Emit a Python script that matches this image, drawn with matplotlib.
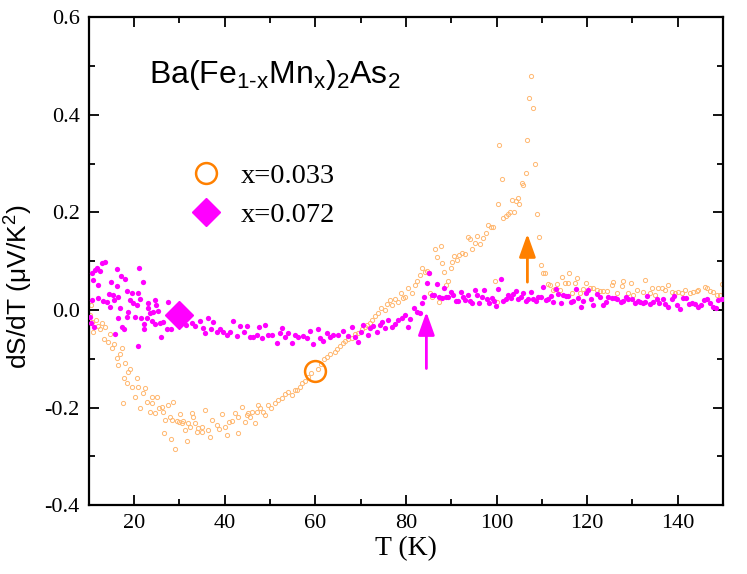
import matplotlib

matplotlib.use("Agg")
import matplotlib.pyplot as plt

# x = 0.033 sample (open orange circles)
orange_T = [
    10.2, 10.5, 10.7, 11.0, 11.5, 12.0, 12.4, 12.9, 13.3, 13.6, 14.2, 14.6, 15.1, 15.5, 16.2, 16.4,
    16.8, 17.3, 17.5, 17.7, 17.9, 18.4, 18.6, 19.0, 19.5, 20.2, 20.6, 20.8, 21.3, 21.9, 22.4, 22.8,
    23.5, 23.9, 24.0, 24.6, 25.0, 25.5, 26.1, 26.4, 26.6, 26.8, 27.4, 27.8, 28.1, 28.3, 28.5, 29.0,
    29.4, 29.8, 30.1, 30.5, 30.8, 31.2, 31.6, 31.9, 32.3, 32.7, 33.0, 33.4, 33.8, 34.1, 34.9, 35.0,
    35.6, 36.3, 36.8, 37.2, 38.3, 38.8, 39.4, 40.0, 40.5, 41.0, 41.6, 42.2, 42.9, 43.0, 43.8, 44.4,
    44.8, 45.1, 45.5, 46.0, 46.6, 47.0, 47.3, 47.8, 48.4, 48.8, 49.5, 50.2, 51.0, 51.8, 52.6, 53.3,
    54.0, 54.8, 55.5, 56.0, 56.6, 57.0, 57.6, 58.3, 59.0, 60.6, 61.3, 62.0, 62.5, 63.2, 64.3, 64.8,
    65.4, 66.0, 66.6, 67.3, 68.0, 68.7, 69.4, 70.2, 71.0, 71.5, 72.0, 72.6, 73.2, 73.8, 74.5, 75.3,
    75.8, 76.4, 77.0, 77.6, 78.2, 78.8, 79.3, 79.8, 80.5, 81.3, 82.0, 82.5, 83.0, 83.6, 84.2, 84.6,
    85.0, 85.4, 85.8, 86.4, 86.8, 87.2, 87.7, 88.0, 88.4, 88.9, 89.2, 89.9, 90.2, 90.6, 91.2, 91.7,
    92.3, 93.0, 93.7, 94.1, 94.6, 95.2, 95.6, 96.3, 97.0, 97.6, 98.1, 98.7, 99.1, 99.6, 100.0, 100.3,
    100.5, 101.2, 101.4, 102.1, 102.5, 102.9, 103.4, 103.8, 104.3, 104.7, 104.9, 105.6, 105.8, 106.5, 106.7, 107.2,
    107.6, 108.1, 108.5, 109.0, 109.4, 109.8, 110.2, 110.7, 111.3, 111.8, 112.4, 112.9, 113.3, 114.0, 114.4, 115.1,
    115.7, 116.0, 116.6, 117.3, 117.7, 118.4, 119.1, 119.7, 120.6, 121.3, 122.1, 122.8, 123.5, 124.3, 125.5, 125.7,
    126.6, 127.7, 127.9, 129.0, 129.6, 130.1, 131.0, 132.3, 132.7, 133.8, 134.3, 134.9, 135.6, 136.5, 137.2, 137.8,
    138.7, 139.4, 140.0, 140.9, 141.6, 142.7, 143.3, 144.2, 144.4, 146.0, 146.4, 147.1, 147.7, 148.6, 149.3, 149.7,
]
orange_dSdT = [
    -0.010, 0.010, -0.025, -0.045, -0.020, -0.033, -0.040, -0.027, -0.060, -0.035, -0.065, -0.050, -0.078, -0.070, -0.098, -0.113,
    -0.090, -0.078, -0.190, -0.140, -0.109, -0.150, -0.127, -0.120, -0.157, -0.178, -0.140, -0.157, -0.200, -0.170, -0.160, -0.188,
    -0.209, -0.178, -0.190, -0.211, -0.178, -0.200, -0.198, -0.210, -0.252, -0.225, -0.195, -0.220, -0.264, -0.225, -0.188, -0.285,
    -0.227, -0.230, -0.213, -0.232, -0.228, -0.246, -0.268, -0.232, -0.240, -0.211, -0.220, -0.232, -0.250, -0.242, -0.250, -0.240,
    -0.205, -0.246, -0.260, -0.225, -0.235, -0.245, -0.213, -0.240, -0.256, -0.230, -0.227, -0.211, -0.252, -0.220, -0.198, -0.229,
    -0.215, -0.211, -0.220, -0.209, -0.232, -0.210, -0.195, -0.200, -0.209, -0.215, -0.195, -0.200, -0.190, -0.185, -0.180, -0.172,
    -0.168, -0.175, -0.165, -0.164, -0.158, -0.150, -0.145, -0.137, -0.130, -0.120, -0.110, -0.100, -0.096, -0.090, -0.086, -0.080,
    -0.073, -0.068, -0.063, -0.060, -0.057, -0.050, -0.047, -0.040, -0.035, -0.030, -0.027, -0.020, -0.012, -0.006, 0.005, 0.000,
    0.012, 0.020, 0.010, 0.022, 0.016, 0.035, 0.025, 0.027, 0.045, 0.035, 0.051, 0.060, 0.072, 0.085, 0.078, 0.080,
    0.076, 0.035, 0.027, 0.125, 0.109, 0.016, 0.131, 0.096, 0.078, 0.051, 0.059, 0.086, 0.098, 0.111, 0.102, 0.113,
    0.117, 0.115, 0.150, 0.145, 0.125, 0.137, 0.152, 0.135, 0.148, 0.158, 0.174, 0.170, 0.170, 0.060, 0.016, 0.217,
    0.338, 0.268, 0.188, 0.193, 0.197, 0.200, 0.225, 0.200, 0.223, 0.230, 0.217, 0.260, 0.256, 0.281, 0.348, 0.434,
    0.480, 0.414, 0.299, 0.197, 0.150, 0.092, 0.076, 0.076, 0.053, 0.051, 0.041, 0.043, 0.053, 0.041, 0.068, 0.055,
    0.055, 0.076, 0.035, 0.055, 0.066, 0.035, 0.043, 0.055, 0.045, 0.045, 0.041, 0.039, 0.039, 0.039, 0.051, 0.057,
    0.035, 0.049, 0.059, 0.035, 0.055, 0.031, 0.041, 0.037, 0.061, 0.035, 0.045, 0.031, 0.045, 0.045, 0.041, 0.051,
    0.037, 0.035, 0.037, 0.035, 0.041, 0.035, 0.037, 0.039, 0.041, 0.047, 0.045, 0.039, 0.037, 0.031, 0.031, 0.053,
]

# x = 0.072 sample (filled magenta dots)
magenta_T = [
    10.2, 10.4, 10.7, 10.7, 10.9, 11.1, 11.3, 11.8, 12.0, 12.0, 12.4, 12.9, 13.1, 13.5, 14.0, 14.4,
    14.6, 14.9, 15.3, 15.5, 15.7, 16.2, 16.2, 16.4, 16.4, 16.8, 17.1, 17.3, 17.7, 17.9, 18.4, 18.4,
    18.6, 19.1, 19.5, 19.7, 20.2, 20.6, 20.8, 20.8, 21.0, 21.3, 21.5, 21.9, 22.1, 22.1, 22.8, 23.0,
    23.0, 23.5, 23.9, 24.1, 24.6, 24.6, 24.8, 25.2, 25.7, 25.9, 26.3, 27.2, 27.4, 28.1, 28.8, 31.5,
    32.7, 33.4, 34.5, 35.2, 35.6, 36.3, 36.9, 37.4, 38.3, 38.9, 39.6, 40.5, 41.1, 41.8, 42.7, 43.3,
    44.2, 44.9, 45.5, 46.2, 47.1, 47.5, 48.2, 48.9, 49.5, 50.4, 51.5, 52.2, 52.6, 53.3, 53.9, 54.8,
    55.5, 56.1, 57.2, 58.1, 58.8, 59.4, 60.6, 61.0, 61.7, 62.5, 63.2, 63.9, 65.0, 66.1, 67.2, 68.1,
    68.7, 69.4, 70.0, 70.5, 71.6, 72.0, 72.7, 73.6, 74.2, 74.7, 75.3, 76.0, 76.9, 77.5, 78.2, 79.1,
    79.8, 80.4, 80.9, 81.7, 82.4, 83.1, 83.5, 84.0, 84.6, 85.1, 85.7, 86.2, 86.8, 87.3, 87.9, 88.4,
    88.8, 89.2, 89.9, 90.4, 91.0, 91.5, 92.1, 92.6, 93.0, 93.7, 94.1, 94.5, 95.2, 95.7, 96.1, 96.8,
    97.2, 97.9, 98.3, 99.0, 99.4, 99.8, 100.3, 100.9, 101.4, 102.1, 102.5, 103.2, 103.6, 104.3, 104.7, 105.4,
    105.8, 106.5, 106.9, 107.6, 108.0, 108.7, 109.1, 109.8, 110.2, 110.9, 111.3, 112.0, 112.4, 113.1, 113.5, 114.2,
    114.6, 115.3, 115.7, 116.4, 116.8, 117.5, 117.9, 118.6, 119.1, 119.7, 120.2, 120.8, 121.3, 122.1, 122.8, 123.5,
    124.1, 124.6, 125.5, 126.1, 126.6, 127.4, 127.9, 128.5, 129.0, 129.9, 130.5, 131.2, 131.6, 132.3, 132.7, 133.2,
    133.8, 134.5, 135.4, 135.8, 136.7, 137.2, 137.8, 138.7, 139.1, 139.8, 140.5, 141.1, 141.8, 142.5, 143.1, 143.8,
    144.4, 145.1, 145.8, 146.4, 147.1, 147.7, 148.4, 148.9, 149.7,
]
magenta_dSdT = [
    -0.014, -0.027, 0.076, 0.020, 0.061, -0.035, 0.082, 0.086, 0.051, 0.025, 0.080, 0.096, 0.018, 0.098, 0.016, 0.033,
    0.006, 0.057, 0.031, 0.020, -0.049, 0.084, 0.049, 0.027, -0.016, 0.004, 0.070, -0.035, -0.040, 0.064, 0.039, -0.014,
    -0.004, 0.020, 0.035, 0.014, -0.014, 0.010, 0.035, -0.074, 0.086, 0.023, -0.016, 0.057, -0.029, -0.039, -0.016, 0.014,
    0.004, -0.006, -0.022, -0.004, 0.020, -0.029, 0.010, -0.002, -0.027, -0.055, -0.025, -0.040, 0.016, -0.039, -0.020, -0.030,
    -0.027, -0.033, -0.022, -0.037, -0.047, -0.016, -0.040, -0.025, -0.045, -0.040, -0.045, -0.051, -0.045, -0.022, -0.053, -0.033,
    -0.045, -0.033, -0.055, -0.055, -0.051, -0.035, -0.057, -0.031, -0.051, -0.051, -0.068, -0.047, -0.037, -0.055, -0.047, -0.068,
    -0.051, -0.055, -0.053, -0.057, -0.043, -0.070, -0.039, -0.057, -0.064, -0.047, -0.055, -0.051, -0.051, -0.043, -0.053, -0.035,
    -0.055, -0.066, -0.045, -0.031, -0.051, -0.037, -0.033, -0.045, -0.031, -0.025, -0.037, -0.020, -0.035, -0.029, -0.020, -0.016,
    -0.010, -0.035, -0.018, 0.004, -0.004, -0.006, 0.014, 0.027, 0.055, 0.076, 0.031, 0.031, 0.053, 0.027, 0.025, 0.045,
    0.027, 0.027, 0.037, 0.031, 0.018, 0.018, 0.037, 0.027, 0.020, 0.031, 0.018, 0.014, 0.041, 0.031, 0.014, 0.027,
    0.041, 0.023, 0.014, 0.025, 0.018, 0.008, 0.043, 0.064, 0.018, 0.023, 0.031, 0.025, 0.033, 0.039, 0.023, 0.027,
    0.035, 0.018, 0.023, 0.037, 0.023, 0.018, 0.027, 0.027, 0.047, 0.020, 0.023, 0.029, 0.016, 0.043, 0.033, 0.014,
    0.031, 0.029, 0.029, 0.016, 0.018, 0.043, 0.025, 0.006, 0.018, 0.035, 0.041, 0.023, 0.010, 0.033, 0.027, 0.010,
    0.016, 0.027, 0.025, 0.025, 0.023, 0.016, 0.018, 0.027, 0.023, 0.023, 0.014, 0.018, 0.016, 0.014, 0.016, 0.029,
    0.012, 0.016, 0.023, 0.014, 0.023, 0.012, 0.006, 0.023, 0.029, 0.010, 0.002, 0.025, 0.025, 0.012, 0.014, 0.012,
    0.006, 0.010, 0.020, 0.023, 0.014, 0.006, 0.004, 0.020, 0.023,
]

# big symbols drawn on top of each data set, also used as legend keys
label_T = [60.0, 29.8]
label_dSdT = [-0.125, -0.010]
series_labels = ["x=0.033", "x=0.072"]

# transition markers: (T, tail, head)
arrow_magenta = (84.5, -0.12, -0.004)
arrow_orange = (106.8, 0.057, 0.156)

ORANGE = "#ff8000"
ORANGE_LIGHT = "#ffb870"
MAGENTA = "#ff00ff"
SANS = "Liberation Sans"

plt.rcParams["font.family"] = "Liberation Serif"
plt.rcParams["mathtext.fontset"] = "custom"
plt.rcParams["mathtext.rm"] = SANS
plt.rcParams["mathtext.it"] = SANS + ":italic"
plt.rcParams["axes.unicode_minus"] = False

fig = plt.figure(figsize=(7.47, 5.74), dpi=100)
ax = fig.add_axes([0.119, 0.120, 0.849, 0.850])

ax.plot(orange_T, orange_dSdT, "o", ms=3.0, mfc="none", mec=ORANGE_LIGHT, mew=0.7, zorder=2)
ax.plot(magenta_T, magenta_dSdT, "o", ms=3.8, mfc=MAGENTA, mec="none", zorder=3)

(key_orange,) = ax.plot(label_T[0], label_dSdT[0], "o", ms=15, mfc="none", mec=ORANGE, mew=1.8,
                        zorder=4, label=series_labels[0])
(key_magenta,) = ax.plot(label_T[1], label_dSdT[1], "D", ms=14, mfc=MAGENTA, mec=MAGENTA,
                         zorder=4, label=series_labels[1])

for (t, y0, y1), col in ((arrow_magenta, MAGENTA), (arrow_orange, ORANGE)):
    ax.annotate("", xy=(t, y1), xytext=(t, y0),
                arrowprops=dict(arrowstyle="-|>,head_length=0.7,head_width=0.25", color=col,
                                lw=2.0, shrinkA=0, shrinkB=0, mutation_scale=20))

ax.set_xlim(10, 150)
ax.set_ylim(-0.4, 0.6)
ax.set_xticks([20, 40, 60, 80, 100, 120, 140])
ax.set_xticks(range(10, 151, 10), minor=True)
ax.set_yticks([-0.4, -0.2, 0.0, 0.2, 0.4, 0.6])
ax.set_yticks([-0.3, -0.1, 0.1, 0.3, 0.5], minor=True)
ax.set_yticklabels(["-0.4", "-0.2", "0.0", "0.2", "0.4", "0.6"])

ax.tick_params(which="both", direction="in", top=True, right=True, width=1.3, labelsize=16)
ax.tick_params(which="major", length=7.5, pad=6.5)
ax.tick_params(which="minor", length=4.5)
for sp in ax.spines.values():
    sp.set_linewidth(1.6)

ax.set_xlabel("T (K)", fontsize=20, labelpad=2)
ax.set_ylabel(r"dS/dT (μV/K$^{2}$)", fontsize=19, family=SANS)
ax.yaxis.set_label_coords(-0.085, 0.447)

ax.text(0.095, 0.865, r"$\mathregular{Ba(Fe_{1\text{-}x}Mn_{x})_{2}As_{2}}$", transform=ax.transAxes,
        fontsize=23, family=SANS, ha="left", va="baseline")

ax.legend(handles=[key_orange, key_magenta], loc="upper left", bbox_to_anchor=(0.14, 0.73),
          frameon=False, fontsize=20.5, borderpad=0, handlelength=1.0, handletextpad=0.7,
          labelspacing=0.45, numpoints=1)

fig.savefig("out.png", dpi=100)
